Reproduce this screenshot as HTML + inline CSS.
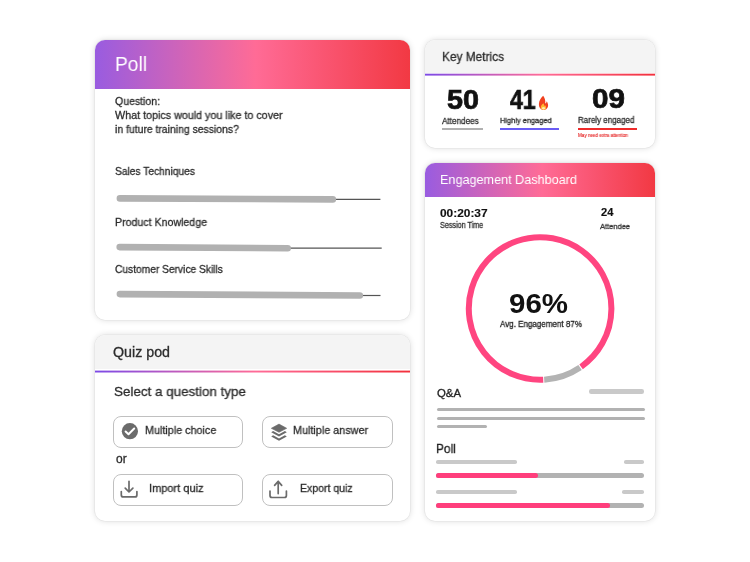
<!DOCTYPE html>
<html><head><meta charset="utf-8"><style>
html,body{margin:0;padding:0;background:#fff;}
body{width:750px;height:562px;position:relative;overflow:hidden;font-family:"Liberation Sans",sans-serif;}
.card{position:absolute;background:#fff;border-radius:10px;box-shadow:0 0 0 0.6px rgba(0,0,0,0.05),0 0 6px rgba(0,0,0,0.15);overflow:hidden;}
.t{position:absolute;white-space:nowrap;transform-origin:0 0;-webkit-font-smoothing:antialiased;will-change:transform;}
.r{position:absolute;}
</style></head><body>
<div class="card" style="left:95px;top:40px;width:315px;height:280px;"><div class="r" style="left:0;top:0;width:315px;height:49px;background:linear-gradient(90deg,#995CE0 0%,#FF6B96 51%,#F23943 100%);"></div></div>
<div class="card" style="left:95px;top:335px;width:315px;height:186px;"><div class="r" style="left:0;top:0;width:315px;height:34px;background:#f4f4f4;"></div></div>
<div class="card" style="left:425px;top:40px;width:230px;height:108px;"><div class="r" style="left:0;top:0;width:230px;height:33px;background:#f4f4f4;"></div></div>
<div class="card" style="left:425px;top:163px;width:230px;height:358px;"><div class="r" style="left:0;top:0;width:230px;height:34px;background:linear-gradient(90deg,#995CE0 0%,#FF6B96 51%,#F23943 100%);"></div></div>
<svg class="r" style="left:0;top:0" width="750" height="562" viewBox="0 0 750 562"><defs>
<linearGradient id="gl1" x1="95" x2="410" y1="0" y2="0" gradientUnits="userSpaceOnUse"><stop offset="0" stop-color="#7C4AE6"/><stop offset="0.51" stop-color="#FF6B96"/><stop offset="1" stop-color="#F2303C"/></linearGradient>
<linearGradient id="gl2" x1="425" x2="655" y1="0" y2="0" gradientUnits="userSpaceOnUse"><stop offset="0" stop-color="#7C4AE6"/><stop offset="0.51" stop-color="#FF6B96"/><stop offset="1" stop-color="#F2303C"/></linearGradient></defs>
<rect x="95" y="370.6" width="315" height="1.9" fill="url(#gl1)"/>
<rect x="425" y="73.7" width="230" height="1.9" fill="url(#gl2)"/>
</svg>
<div class="t" style="left:115.00px;top:54.32px;font-size:20px;line-height:20px;color:#fff;transform:scaleX(0.9595);">Poll</div>
<div class="t" style="left:115.00px;top:96.00px;font-size:10.8px;line-height:10.8px;color:#2c2c2c;transform:scaleX(0.9734);-webkit-text-stroke:0.3px #2c2c2c;">Question:</div>
<div class="t" style="left:115.00px;top:109.81px;font-size:10.8px;line-height:10.8px;color:#2c2c2c;transform:scaleX(0.9942);-webkit-text-stroke:0.3px #2c2c2c;">What topics would you like to cover</div>
<div class="t" style="left:115.00px;top:123.60px;font-size:10.8px;line-height:10.8px;color:#2c2c2c;transform:scaleX(0.9644);-webkit-text-stroke:0.3px #2c2c2c;">in future training sessions?</div>
<div class="t" style="left:115.00px;top:166.00px;font-size:10.8px;line-height:10.8px;color:#2c2c2c;transform:scaleX(0.9472);-webkit-text-stroke:0.3px #2c2c2c;">Sales Techniques</div>
<div class="t" style="left:115.00px;top:216.60px;font-size:10.8px;line-height:10.8px;color:#2c2c2c;transform:scaleX(0.9822);-webkit-text-stroke:0.3px #2c2c2c;">Product Knowledge</div>
<div class="t" style="left:115.00px;top:263.60px;font-size:10.8px;line-height:10.8px;color:#2c2c2c;transform:scaleX(0.9462);-webkit-text-stroke:0.3px #2c2c2c;">Customer Service Skills</div>
<svg class="r" style="left:0;top:0" width="750" height="562" viewBox="0 0 750 562"><line x1="333.1" y1="199.4" x2="380.4" y2="199.4" stroke="#555" stroke-width="1.2"/><line x1="119.89999999999999" y1="198.4" x2="332.8" y2="199.4" stroke="#b1b1b1" stroke-width="6.6" stroke-linecap="round"/><line x1="288" y1="248.1" x2="381.7" y2="248.1" stroke="#555" stroke-width="1.2"/><line x1="119.7" y1="247.1" x2="287.7" y2="248.3" stroke="#b1b1b1" stroke-width="6.6" stroke-linecap="round"/><line x1="360.1" y1="295.5" x2="380.5" y2="295.5" stroke="#555" stroke-width="1.2"/><line x1="119.89999999999999" y1="294.1" x2="359.8" y2="295.5" stroke="#b1b1b1" stroke-width="6.6" stroke-linecap="round"/></svg>
<div class="t" style="left:112.60px;top:346.01px;font-size:13.8px;line-height:13.8px;color:#2c2c2c;transform:scaleX(1.0320);-webkit-text-stroke:0.3px #2c2c2c;">Quiz pod</div>
<div class="t" style="left:113.50px;top:384.60px;font-size:13.5px;line-height:13.5px;color:#2c2c2c;transform:scaleX(0.9937);-webkit-text-stroke:0.3px #2c2c2c;">Select a question type</div>
<div class="r" style="left:113px;top:416px;width:128px;height:30px;border:1px solid #c0c0c0;border-radius:8px;"></div>
<div class="r" style="left:262px;top:416px;width:129px;height:30px;border:1px solid #c0c0c0;border-radius:8px;"></div>
<div class="r" style="left:113px;top:474px;width:128px;height:30px;border:1px solid #c0c0c0;border-radius:8px;"></div>
<div class="r" style="left:262px;top:474px;width:129px;height:30px;border:1px solid #c0c0c0;border-radius:8px;"></div>
<div class="t" style="left:145.00px;top:425.31px;font-size:11.3px;line-height:11.3px;color:#2c2c2c;transform:scaleX(0.9539);-webkit-text-stroke:0.3px #2c2c2c;">Multiple choice</div>
<div class="t" style="left:293.00px;top:425.20px;font-size:11.3px;line-height:11.3px;color:#2c2c2c;transform:scaleX(0.9566);-webkit-text-stroke:0.3px #2c2c2c;">Multiple answer</div>
<div class="t" style="left:115.50px;top:452.81px;font-size:12px;line-height:12px;color:#2c2c2c;transform:scaleX(0.9934);-webkit-text-stroke:0.3px #2c2c2c;">or</div>
<div class="t" style="left:148.70px;top:482.91px;font-size:11.3px;line-height:11.3px;color:#2c2c2c;transform:scaleX(0.9751);-webkit-text-stroke:0.3px #2c2c2c;">Import quiz</div>
<div class="t" style="left:300.00px;top:483.20px;font-size:11.3px;line-height:11.3px;color:#2c2c2c;transform:scaleX(0.9323);-webkit-text-stroke:0.3px #2c2c2c;">Export quiz</div>
<svg class="r" style="left:0;top:0" width="750" height="562" viewBox="0 0 750 562">
<circle cx="129.9" cy="431.2" r="8.1" fill="#6b6b6b"/>
<polyline points="125.6,431.5 128.5,434.2 134.2,428.5" fill="none" stroke="#fff" stroke-width="2" stroke-linecap="round" stroke-linejoin="round"/>
<polygon points="271.3,428.3 279,424.1 286.7,428.3 279,432.3" fill="#6b6b6b" stroke="#6b6b6b" stroke-width="0.6" stroke-linejoin="round"/>
<polygon points="271.2,432.2 273.1,431.1 279,434.3 284.9,431.1 286.8,432.2 279,436.5" fill="#6b6b6b"/>
<polygon points="271.2,436.4 273.1,435.3 279,438.5 284.9,435.3 286.8,436.4 279,440.7" fill="#6b6b6b"/>
<g fill="none" stroke="#6b6b6b" stroke-width="1.7" stroke-linecap="round" stroke-linejoin="round">
<path d="M129,481.3 V491.8 M125.2,488.2 L129,492 L132.9,488.2"/>
<path d="M121.3,491.5 V494.9 Q121.3,496.9 123.3,496.9 H134.9 Q136.9,496.9 136.9,494.9 V491.5"/>
<path d="M278.2,481.4 V493.6 M274.6,485.4 L278.2,481.4 L281.7,485.4"/>
<path d="M270,491.1 V495.5 Q270,497.5 272,497.5 H284.4 Q286.4,497.5 286.4,495.5 V491.1"/>
</g>
</svg>
<div class="t" style="left:442.30px;top:50.30px;font-size:13px;line-height:13px;color:#2c2c2c;transform:scaleX(0.9131);-webkit-text-stroke:0.3px #2c2c2c;">Key Metrics</div>
<div class="t" style="left:447.00px;top:86.71px;font-size:27px;line-height:27px;font-weight:700;color:#111;transform:scaleX(1.0655);-webkit-text-stroke:0.7px #111;">50</div>
<div class="t" style="left:510.00px;top:86.81px;font-size:27px;line-height:27px;font-weight:700;color:#111;transform:scaleX(0.8524);-webkit-text-stroke:0.7px #111;">41</div>
<div class="t" style="left:592.00px;top:86.00px;font-size:27px;line-height:27px;font-weight:700;color:#111;transform:scaleX(1.0988);-webkit-text-stroke:0.7px #111;">09</div>
<div class="t" style="left:442.30px;top:116.71px;font-size:8.8px;line-height:8.8px;color:#2c2c2c;transform:scaleX(0.9260);-webkit-text-stroke:0.3px #2c2c2c;">Attendees</div>
<div class="t" style="left:499.50px;top:116.72px;font-size:8px;line-height:8px;color:#2c2c2c;transform:scaleX(0.9281);-webkit-text-stroke:0.3px #2c2c2c;">Highly engaged</div>
<div class="t" style="left:577.70px;top:115.71px;font-size:8.8px;line-height:8.8px;color:#2c2c2c;transform:scaleX(0.9077);-webkit-text-stroke:0.3px #2c2c2c;">Rarely engaged</div>
<div class="t" style="left:577.70px;top:133.60px;font-size:4.6px;line-height:4.6px;color:#e41e1e;transform:scaleX(0.9875);-webkit-text-stroke:0.1px #e41e1e;">May need extra attention</div>
<div class="r" style="left:442px;top:128.40px;width:41.00px;height:1.8px;background:#b0b0b0;border-radius:0px;"></div>
<div class="r" style="left:499.5px;top:128.40px;width:59.50px;height:1.8px;background:#6a5cf4;border-radius:0px;"></div>
<div class="r" style="left:577.7px;top:128.00px;width:59.10px;height:1.8px;background:#ee2a2a;border-radius:0px;"></div>
<svg class="r" style="left:538px;top:94.5px" width="11" height="15.5" viewBox="0 0 11 15.5">
<path d="M5.2,0.8 C3.2,2.6 1,5.6 0.9,9 C0.8,12.6 3,15 5.5,15 C8.2,15 10.2,12.8 10.1,10 C10,8.4 9.3,7.2 8.8,6.2 C8.5,7.4 8,8.2 7.2,8.4 C7.6,5.6 6.8,2.8 5.2,0.8 Z" fill="#f0401e"/>
<path d="M5.4,8.2 C3.8,9.6 2.6,11 2.8,12.6 C3,14.1 4.2,14.9 5.5,14.9 C7,14.9 8.1,13.9 8.1,12.4 C8.1,11.3 7.4,10.6 6.9,10 C6.7,10.6 6.4,11 6,11.1 C6.2,10.1 6,9 5.4,8.2 Z" fill="#ffb62e"/>
<ellipse cx="5.5" cy="13.3" rx="1.6" ry="1.2" fill="#ffe9a6"/>
</svg>
<div class="t" style="left:440.00px;top:173.21px;font-size:13.6px;line-height:13.6px;color:#fff;transform:scaleX(0.9292);">Engagement Dashboard</div>
<div class="t" style="left:440.00px;top:207.61px;font-size:11.4px;line-height:11.4px;font-weight:700;color:#111;transform:scaleX(1.0430);-webkit-text-stroke:0.15px #111;">00:20:37</div>
<div class="t" style="left:440.00px;top:222.10px;font-size:8.2px;line-height:8.2px;color:#333;transform:scaleX(0.8797);-webkit-text-stroke:0.3px #333;">Session Time</div>
<div class="t" style="left:600.50px;top:206.71px;font-size:11px;line-height:11px;font-weight:700;color:#111;transform:scaleX(1.0134);-webkit-text-stroke:0.15px #111;">24</div>
<div class="t" style="left:600.00px;top:223.10px;font-size:8px;line-height:8px;color:#333;transform:scaleX(0.9367);-webkit-text-stroke:0.3px #333;">Attendee</div>
<div class="t" style="left:509.40px;top:290.21px;font-size:28px;line-height:28px;font-weight:700;color:#111;transform:scaleX(1.0528);">96%</div>
<div class="t" style="left:499.50px;top:319.60px;font-size:9.2px;line-height:9.2px;color:#222;transform:scaleX(0.8729);-webkit-text-stroke:0.3px #222;">Avg. Engagement 87%</div>
<svg class="r" style="left:0;top:0" width="750" height="562" viewBox="0 0 750 562">
<path d="M543.21,379.73 A71.3,71.3 0 1 1 581.10,366.83" fill="none" stroke="#ff4580" stroke-width="6"/>
<path d="M580.07,367.54 A71.3,71.3 0 0 1 544.20,379.68" fill="none" stroke="#b3b3b3" stroke-width="6"/>
</svg>
<div class="t" style="left:437.00px;top:387.82px;font-size:11.4px;line-height:11.4px;color:#222;transform:scaleX(0.9969);-webkit-text-stroke:0.3px #222;">Q&amp;A</div>
<div class="r" style="left:589px;top:389.30px;width:55.40px;height:4.4px;background:#c9c9c9;border-radius:2.2px;"></div>
<div class="r" style="left:437px;top:407.90px;width:207.60px;height:3px;background:#b2b2b2;border-radius:1.5px;"></div>
<div class="r" style="left:437px;top:417.20px;width:207.60px;height:3px;background:#b2b2b2;border-radius:1.5px;"></div>
<div class="r" style="left:437px;top:425.30px;width:49.80px;height:3.2px;background:#b2b2b2;border-radius:1.6px;"></div>
<div class="t" style="left:436.00px;top:442.31px;font-size:13.2px;line-height:13.2px;color:#222;transform:scaleX(0.8995);-webkit-text-stroke:0.3px #222;">Poll</div>
<div class="r" style="left:436px;top:460.10px;width:80.50px;height:3.6px;background:#c9c9c9;border-radius:1.8px;"></div>
<div class="r" style="left:624.2px;top:460.20px;width:20.10px;height:3.6px;background:#c9c9c9;border-radius:1.8px;"></div>
<div class="r" style="left:436px;top:472.50px;width:208.00px;height:5px;background:#b2b2b2;border-radius:2.5px;"></div>
<div class="r" style="left:436px;top:472.50px;width:101.80px;height:5px;background:#ff3e7c;border-radius:2.5px;"></div>
<div class="r" style="left:436px;top:490.10px;width:80.50px;height:3.6px;background:#c9c9c9;border-radius:1.8px;"></div>
<div class="r" style="left:621.5px;top:490.20px;width:22.50px;height:3.6px;background:#c9c9c9;border-radius:1.8px;"></div>
<div class="r" style="left:436px;top:502.60px;width:208.00px;height:5px;background:#b2b2b2;border-radius:2.5px;"></div>
<div class="r" style="left:436px;top:502.60px;width:173.80px;height:5px;background:#ff3e7c;border-radius:2.5px;"></div>
</body></html>
